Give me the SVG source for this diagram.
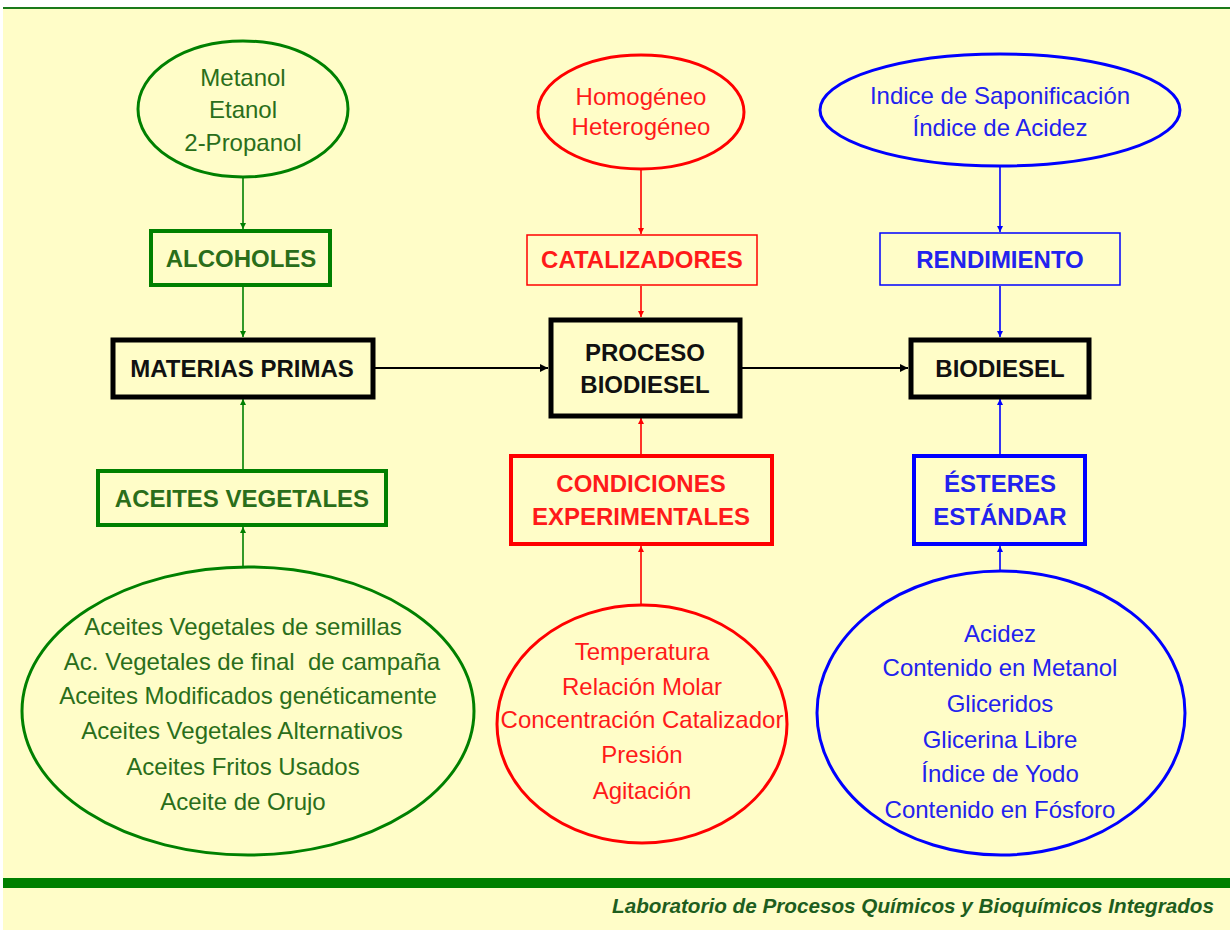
<svg xmlns="http://www.w3.org/2000/svg" width="1230" height="930" viewBox="0 0 1230 930">
<defs>
<style>
text{font-family:"Liberation Sans",Arial,sans-serif;text-anchor:middle}
.e{font-size:24px}
.b{font-size:24px;font-weight:bold}
.g{fill:#2a6e1a}.r{fill:#ff1a1a}.u{fill:#2222ee}.k{fill:#111}
.sg{stroke:#008000;fill:none}.sr{stroke:#ff0000;fill:none}.su{stroke:#0000ff;fill:none}.sk{stroke:#000;fill:none}
</style>
<marker id="ag" viewBox="0 0 10 10" refX="10" refY="5" markerWidth="6" markerHeight="8" orient="auto" markerUnits="userSpaceOnUse"><path d="M0,0 L10,5 L0,10 z" fill="#008000"/></marker>
<marker id="ar" viewBox="0 0 10 10" refX="10" refY="5" markerWidth="6" markerHeight="8" orient="auto" markerUnits="userSpaceOnUse"><path d="M0,0 L10,5 L0,10 z" fill="#ff0000"/></marker>
<marker id="au" viewBox="0 0 10 10" refX="10" refY="5" markerWidth="6" markerHeight="8" orient="auto" markerUnits="userSpaceOnUse"><path d="M0,0 L10,5 L0,10 z" fill="#0000ff"/></marker>
<marker id="ak" viewBox="0 0 10 10" refX="10" refY="5" markerWidth="11" markerHeight="8" orient="auto" markerUnits="userSpaceOnUse"><path d="M0,0 L10,5 L0,10 z" fill="#000"/></marker>
</defs>
<rect x="0" y="0" width="1230" height="930" fill="#ffffff"/>
<rect x="3" y="8" width="1227" height="922" fill="#fffdc8"/>
<rect x="3" y="7" width="1227" height="2" fill="#1a7a1a"/>
<rect x="3" y="878" width="1227" height="10" fill="#008000"/>
<text x="1214" y="913" style="text-anchor:end;font-size:20px;font-weight:bold;font-style:italic" fill="#1e5e1e" textLength="602" lengthAdjust="spacingAndGlyphs">Laboratorio de Procesos Químicos y Bioquímicos Integrados</text>

<g id="connectors" stroke-width="1.6">
<line class="sg" x1="243" y1="177" x2="243" y2="229" marker-end="url(#ag)"/>
<line class="sg" x1="243" y1="286" x2="243" y2="337" marker-end="url(#ag)"/>
<line class="sg" x1="243" y1="469" x2="243" y2="399" marker-end="url(#ag)"/>
<line class="sg" x1="243" y1="567" x2="243" y2="527" marker-end="url(#ag)"/>
<line class="sr" x1="641" y1="169" x2="641" y2="234" marker-end="url(#ar)"/>
<line class="sr" x1="641" y1="286" x2="641" y2="317" marker-end="url(#ar)"/>
<line class="sr" x1="641" y1="454" x2="641" y2="418" marker-end="url(#ar)"/>
<line class="sr" x1="641" y1="605" x2="641" y2="546" marker-end="url(#ar)"/>
<line class="su" x1="1000" y1="166" x2="1000" y2="232" marker-end="url(#au)"/>
<line class="su" x1="1000" y1="286" x2="1000" y2="337" marker-end="url(#au)"/>
<line class="su" x1="1000" y1="454" x2="1000" y2="399" marker-end="url(#au)"/>
<line class="su" x1="1000" y1="571" x2="1000" y2="546" marker-end="url(#au)"/>
<line class="sk" x1="375" y1="368" x2="548" y2="368" stroke-width="2" marker-end="url(#ak)"/>
<line class="sk" x1="742" y1="368" x2="908" y2="368" stroke-width="2" marker-end="url(#ak)"/>
</g>

<g id="alcoholes-list">
<ellipse class="sg" cx="243" cy="109" rx="105" ry="68" stroke-width="3"/>
<text class="e g" x="243" y="86">Metanol</text>
<text class="e g" x="243" y="118">Etanol</text>
<text class="e g" x="243" y="151">2-Propanol</text>
</g>
<g id="catalizadores-list">
<ellipse class="sr" cx="641" cy="112" rx="103" ry="57" stroke-width="3"/>
<text class="e r" x="641" y="105">Homogéneo</text>
<text class="e r" x="641" y="135">Heterogéneo</text>
</g>
<g id="rendimiento-list">
<ellipse class="su" cx="1000" cy="110" rx="180" ry="56" stroke-width="3"/>
<text class="e u" x="1000" y="104">Indice de Saponificación</text>
<text class="e u" x="1000" y="136">Índice de Acidez</text>
</g>

<g id="alcoholes">
<rect class="sg" x="151" y="231" width="179" height="54" stroke-width="4"/>
<text class="b g" x="241" y="267">ALCOHOLES</text>
</g>
<g id="catalizadores">
<rect class="sr" x="527" y="235" width="230" height="50" stroke-width="1.5"/>
<text class="b r" x="642" y="268">CATALIZADORES</text>
</g>
<g id="rendimiento">
<rect class="su" x="880" y="233" width="240" height="52" stroke-width="1.5"/>
<text class="b u" x="1000" y="268">RENDIMIENTO</text>
</g>

<g id="materias-primas">
<rect class="sk" x="113" y="340" width="260" height="57" stroke-width="5"/>
<text class="b k" x="242" y="377">MATERIAS PRIMAS</text>
</g>
<g id="proceso-biodiesel">
<rect class="sk" x="551" y="320" width="189" height="96" stroke-width="5"/>
<text class="b k" x="645" y="361">PROCESO</text>
<text class="b k" x="645" y="393">BIODIESEL</text>
</g>
<g id="biodiesel">
<rect class="sk" x="911" y="340" width="178" height="57" stroke-width="5"/>
<text class="b k" x="1000" y="377">BIODIESEL</text>
</g>

<g id="aceites-vegetales">
<rect class="sg" x="98" y="471" width="288" height="54" stroke-width="4"/>
<text class="b g" x="242" y="507">ACEITES VEGETALES</text>
</g>
<g id="condiciones">
<rect class="sr" x="511" y="456" width="261" height="88" stroke-width="4"/>
<text class="b r" x="641" y="492">CONDICIONES</text>
<text class="b r" x="641" y="525">EXPERIMENTALES</text>
</g>
<g id="esteres">
<rect class="su" x="914" y="456" width="171" height="88" stroke-width="4"/>
<text class="b u" x="1000" y="492">ÉSTERES</text>
<text class="b u" x="1000" y="525">ESTÁNDAR</text>
</g>

<g id="aceites-list">
<ellipse class="sg" cx="248" cy="711" rx="226" ry="144" stroke-width="3"/>
<text class="e g" x="243" y="635">Aceites Vegetales de semillas</text>
<text class="e g" x="252" y="670" xml:space="preserve">Ac. Vegetales de final  de campaña</text>
<text class="e g" x="248" y="704">Aceites Modificados genéticamente</text>
<text class="e g" x="242" y="739">Aceites Vegetales Alternativos</text>
<text class="e g" x="243" y="775">Aceites Fritos Usados</text>
<text class="e g" x="243" y="810">Aceite de Orujo</text>
</g>
<g id="condiciones-list">
<ellipse class="sr" cx="642" cy="724" rx="145" ry="119" stroke-width="3"/>
<text class="e r" x="642" y="660">Temperatura</text>
<text class="e r" x="642" y="695">Relación Molar</text>
<text class="e r" x="642" y="728">Concentración Catalizador</text>
<text class="e r" x="642" y="763">Presión</text>
<text class="e r" x="642" y="799">Agitación</text>
</g>
<g id="esteres-list">
<ellipse class="su" cx="1001" cy="713" rx="184" ry="142" stroke-width="3"/>
<text class="e u" x="1000" y="642">Acidez</text>
<text class="e u" x="1000" y="676">Contenido en Metanol</text>
<text class="e u" x="1000" y="712">Gliceridos</text>
<text class="e u" x="1000" y="748">Glicerina Libre</text>
<text class="e u" x="1000" y="782">Índice de Yodo</text>
<text class="e u" x="1000" y="818">Contenido en Fósforo</text>
</g>
</svg>
